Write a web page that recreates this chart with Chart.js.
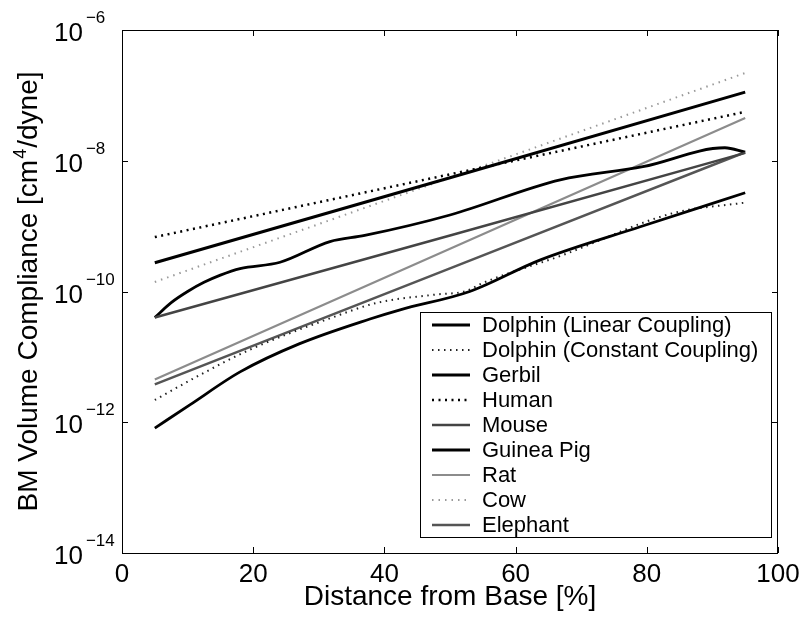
<!DOCTYPE html>
<html>
<head>
<meta charset="utf-8">
<script src="https://cdn.jsdelivr.net/npm/chart.js@4/dist/chart.umd.min.js"></script>
<style>
html,body{margin:0;padding:0;background:#fff;}
canvas{display:block;}
</style>
</head>
<body>
<canvas id="c" width="804" height="617"></canvas>
<script>
// ---- data (x: distance from base [%], y: BM volume compliance [cm^4/dyne]) ----
const seriesNames = ["Dolphin (Linear Coupling)", "Dolphin (Constant Coupling)", "Gerbil", "Human", "Mouse", "Guinea Pig", "Rat", "Cow", "Elephant"];

const dolphinLinX = [5, 10.4, 18, 27, 37.8, 42.4, 53, 63.7, 79, 95];
const dolphinLinY = [8.13e-13, 1.86e-12, 5.89e-12, 1.58e-11, 3.80e-11, 5.25e-11, 1.0e-10, 3.02e-10, 9.77e-10, 3.24e-9];

const dolphinConX = [5, 12, 19.5, 32, 39, 47.5, 52.5, 55, 67, 84, 95];
const dolphinConY = [2.19e-12, 5.37e-12, 1.29e-11, 3.98e-11, 6.76e-11, 8.91e-11, 1.02e-10, 1.35e-10, 3.55e-10, 1.58e-9, 2.29e-9];

const gerbilX = [5, 50, 95];
const gerbilY = [2.75e-10, 5.5e-9, 1.12e-7];

const humanX = [5, 50, 95];
const humanY = [6.8e-10, 6.2e-9, 5.6e-8];

const mouseX = [5, 50, 95];
const mouseY = [4.0e-11, 7.2e-10, 1.32e-8];

const guineaX = [5, 7.5, 10, 12.5, 15, 18, 24.1, 31.7, 37, 50, 66.8, 79.4, 91.9, 95];
const guineaY = [4.0e-11, 6.76e-11, 1.0e-10, 1.38e-10, 1.78e-10, 2.24e-10, 2.8e-10, 5.8e-10, 7.2e-10, 1.48e-9, 5.1e-9, 8.1e-9, 1.58e-8, 1.35e-8];

const ratX = [5, 50, 95];
const ratY = [4.5e-12, 4.5e-10, 4.5e-8];

const cowX = [5, 50, 95];
const cowY = [1.4e-10, 5.5e-9, 2.2e-7];

const elephantX = [5, 50, 95];
const elephantY = [3.8e-12, 2.26e-10, 1.35e-8];

const xTicks = [0, 20, 40, 60, 80, 100];
const yTickExps = [-6, -8, -10, -12, -14];
const xTitle = "Distance from Base [%]";
const yTitleParts = ["BM Volume Compliance [cm", "4", "/dyne]"];

function pts(xs, ys){ return xs.map((x,i)=>({x:x, y:ys[i]})); }

const FONT = '"Liberation Sans", Arial, Helvetica, sans-serif';

const datasets = [
  {label: seriesNames[0], data: pts(dolphinLinX, dolphinLinY), borderColor:'#000', borderWidth:2.8, cubicInterpolationMode:'monotone'},
  {label: seriesNames[1], data: pts(dolphinConX, dolphinConY), borderColor:'#222', borderWidth:2, borderDash:[1.5,4.5], cubicInterpolationMode:'monotone'},
  {label: seriesNames[2], data: pts(gerbilX, gerbilY), borderColor:'#000', borderWidth:3},
  {label: seriesNames[3], data: pts(humanX, humanY), borderColor:'#000', borderWidth:2.5, borderDash:[2,4.5]},
  {label: seriesNames[4], data: pts(mouseX, mouseY), borderColor:'#444', borderWidth:2.5},
  {label: seriesNames[5], data: pts(guineaX, guineaY), borderColor:'#000', borderWidth:2.8, cubicInterpolationMode:'monotone'},
  {label: seriesNames[6], data: pts(ratX, ratY), borderColor:'#8c8c8c', borderWidth:2.2},
  {label: seriesNames[7], data: pts(cowX, cowY), borderColor:'#9a9a9a', borderWidth:2, borderDash:[1.5,5]},
  {label: seriesNames[8], data: pts(elephantX, elephantY), borderColor:'#555', borderWidth:2.5}
];
datasets.forEach(d => { d.pointRadius = 0; d.fill = false; d.borderCapStyle = 'butt'; d.borderJoinStyle = 'round'; });

const decor = {
  id: 'decor',
  afterDraw(chart){
    const ctx = chart.ctx, ca = chart.chartArea;
    const xs = chart.scales.x, ys = chart.scales.y;
    ctx.save();
    ctx.strokeStyle = '#000'; ctx.lineWidth = 1; ctx.setLineDash([]);
    ctx.strokeRect(ca.left+0.5, ca.top+0.5, ca.right-ca.left-1, ca.bottom-ca.top);
    const tl = 6;
    ctx.beginPath();
    xTicks.forEach(v => {
      const px = Math.round(xs.getPixelForValue(v)) + 0.5;
      ctx.moveTo(px, ca.bottom); ctx.lineTo(px, ca.bottom - tl);
      ctx.moveTo(px, ca.top); ctx.lineTo(px, ca.top + tl);
    });
    yTickExps.forEach(e => {
      const py = Math.round(ys.getPixelForValue(Math.pow(10, e))) + 0.5;
      ctx.moveTo(ca.left, py); ctx.lineTo(ca.left + tl, py);
      ctx.moveTo(ca.right, py); ctx.lineTo(ca.right - tl, py);
    });
    ctx.stroke();

    ctx.fillStyle = '#000';
    // x tick labels
    ctx.font = '26px ' + FONT; ctx.textAlign = 'center'; ctx.textBaseline = 'alphabetic';
    xTicks.forEach(v => { ctx.fillText(String(v), xs.getPixelForValue(v), 582); });
    // y tick labels 10^e
    yTickExps.forEach(e => {
      const py = ys.getPixelForValue(Math.pow(10, e));
      ctx.font = '26px ' + FONT; ctx.textAlign = 'left';
      ctx.fillText('10', 54, py + 11);
      const w = ctx.measureText('10').width;
      ctx.font = '17px ' + FONT;
      ctx.fillText('\u2212' + String(-e), 54 + w + 3, py - 7);
    });
    // x title
    ctx.font = '28px ' + FONT; ctx.textAlign = 'center';
    ctx.fillText(xTitle, (ca.left + ca.right)/2, 605);
    // y title (rotated, with superscript)
    ctx.save();
    ctx.translate(37, (ca.top + ca.bottom)/2);
    ctx.rotate(-Math.PI/2);
    ctx.textAlign = 'left';
    ctx.font = '28px ' + FONT; const w0 = ctx.measureText(yTitleParts[0]).width;
    ctx.font = '18px ' + FONT; const w1 = ctx.measureText(yTitleParts[1]).width;
    ctx.font = '28px ' + FONT; const w2 = ctx.measureText(yTitleParts[2]).width;
    let sx = -(w0 + w1 + w2 + 2)/2;
    ctx.fillText(yTitleParts[0], sx, 0); sx += w0 + 1;
    ctx.font = '18px ' + FONT; ctx.fillText(yTitleParts[1], sx, -11); sx += w1 + 1;
    ctx.font = '28px ' + FONT; ctx.fillText(yTitleParts[2], sx, 0);
    ctx.restore();

    // legend box
    const lx0 = 420, ly0 = 312, lx1 = 771, ly1 = 537, row = 25;
    ctx.fillStyle = '#fff';
    ctx.fillRect(lx0, ly0, lx1-lx0, ly1-ly0);
    ctx.strokeStyle = '#000'; ctx.lineWidth = 1;
    ctx.strokeRect(lx0+0.5, ly0+0.5, lx1-lx0, ly1-ly0);
    ctx.font = '22px ' + FONT; ctx.textAlign = 'left'; ctx.textBaseline = 'middle';
    chart.data.datasets.forEach((d, i) => {
      const y = ly0 + 13 + i*row;
      ctx.save();
      ctx.strokeStyle = d.borderColor; ctx.lineWidth = d.borderWidth;
      ctx.lineCap = 'butt';
      ctx.setLineDash(d.borderDash || []);
      ctx.beginPath(); ctx.moveTo(432, y); ctx.lineTo(470, y); ctx.stroke();
      ctx.restore();
      ctx.fillStyle = '#000';
      ctx.fillText(d.label, 482, y + 1);
    });
    ctx.restore();
  }
};

new Chart(document.getElementById('c'), {
  type: 'line',
  data: { datasets: datasets },
  options: {
    responsive: false,
    animation: false,
    layout: { padding: { left: 122, right: 26, top: 30, bottom: 64 } },
    plugins: { legend: { display: false }, tooltip: { enabled: false } },
    scales: {
      x: { type: 'linear', min: 0, max: 100, display: false },
      y: { type: 'logarithmic', min: 1e-14, max: 1e-6, display: false }
    }
  },
  plugins: [decor]
});
</script>
</body>
</html>
